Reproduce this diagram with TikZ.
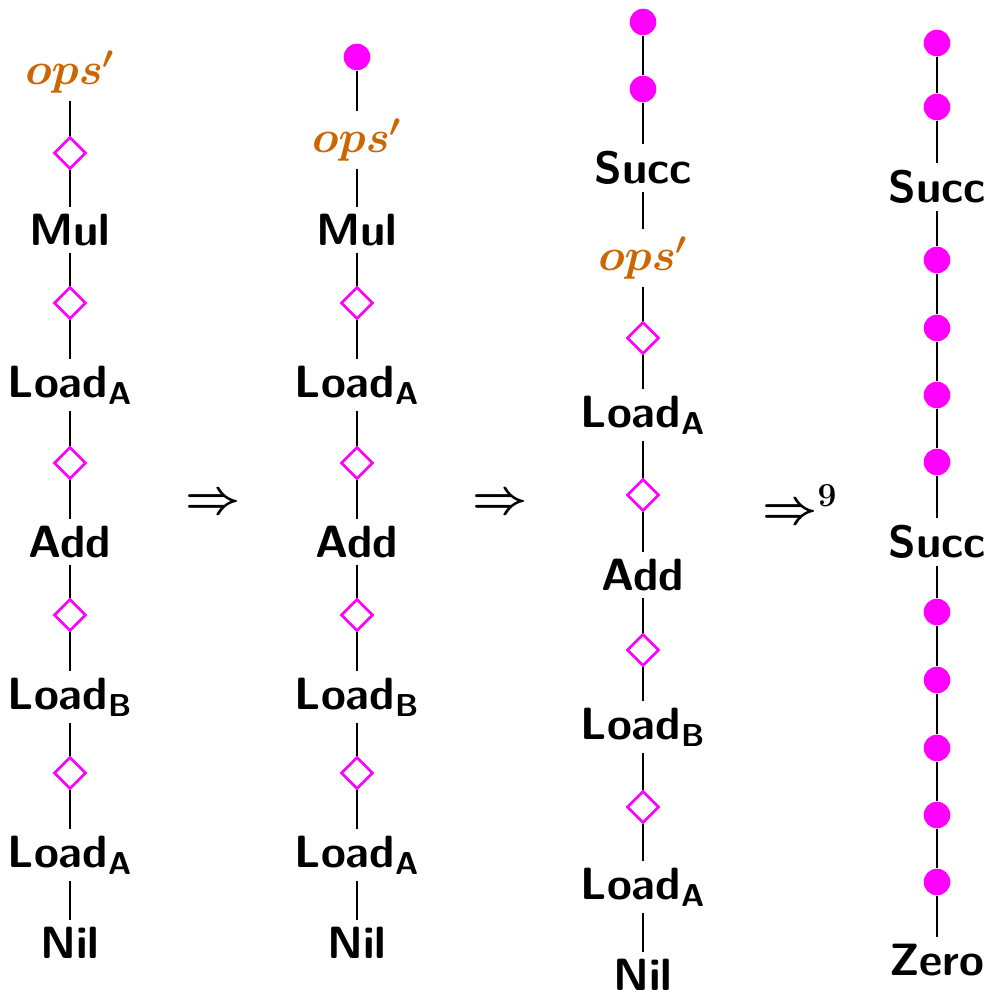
\RequirePackage{fix-cm}
\documentclass[tikz,border=0pt]{standalone}
\usepackage{amsmath}
\usepackage{fontspec}
\usetikzlibrary{shapes.geometric}

\definecolor{opsorange}{RGB}{204,102,0}
\definecolor{holemag}{RGB}{255,0,255}
\newcommand\lblfont{\sffamily\bfseries\fontsize{22.6}{26}\selectfont}
\newcommand\opsfont{\fontsize{22.6}{26}\selectfont}
\newcommand\arrfont{\fontsize{24}{28}\selectfont\boldmath}
\newcommand\opsname{$\boldsymbol{ops'}$}

\tikzset{
  lbl/.style={font=\lblfont, inner sep=3.5pt},
  opsl/.style={text=opsorange, font=\opsfont, inner sep=3.5pt},
  hole/.style={diamond, draw=holemag, line width=1.3pt, minimum size=16pt, inner sep=0pt},
  dotn/.style={circle, fill=holemag, minimum size=13.3pt, inner sep=0pt},
  link/.style={line width=0.65pt},
  step arrow/.style={font=\arrfont, inner sep=0pt},
}

\begin{document}
\begin{tikzpicture}[x=0.5pt, y=-0.5pt]
\useasboundingbox (0,0) rectangle (990,998);

% first term
\node[opsl] (a1)  at (70,72)  {\opsname};
\node[hole] (a2)  at (70,153) {};
\node[lbl]  (a3)  at (70,230) {Mul};
\node[hole] (a4)  at (70,303) {};
\node[lbl]  (a5)  at (70,385) {Load$_{\text{A}}$};
\node[hole] (a6)  at (70,463) {};
\node[lbl]  (a7)  at (70,542) {Add};
\node[hole] (a8)  at (70,615) {};
\node[lbl]  (a9)  at (70,697) {Load$_{\text{B}}$};
\node[hole] (a10) at (70,773) {};
\node[lbl]  (a11) at (70,855) {Load$_{\text{A}}$};
\node[lbl]  (a12) at (70,943) {Nil};
\foreach \i [evaluate=\i as \j using int(\i+1)] in {1,...,11}
  \draw[link] (a\i) -- (a\j);

% second term
\node[dotn] (b1)  at (357,57)  {};
\node[opsl] (b2)  at (357,140) {\opsname};
\node[lbl]  (b3)  at (357,230) {Mul};
\node[hole] (b4)  at (357,303) {};
\node[lbl]  (b5)  at (357,385) {Load$_{\text{A}}$};
\node[hole] (b6)  at (357,463) {};
\node[lbl]  (b7)  at (357,542) {Add};
\node[hole] (b8)  at (357,615) {};
\node[lbl]  (b9)  at (357,697) {Load$_{\text{B}}$};
\node[hole] (b10) at (357,773) {};
\node[lbl]  (b11) at (357,855) {Load$_{\text{A}}$};
\node[lbl]  (b12) at (357,943) {Nil};
\foreach \i [evaluate=\i as \j using int(\i+1)] in {1,...,11}
  \draw[link] (b\i) -- (b\j);

% third term
\node[dotn] (c1)  at (643,22)  {};
\node[dotn] (c2)  at (643,89)  {};
\node[lbl]  (c3)  at (643,168) {Succ};
\node[opsl] (c4)  at (643,258) {\opsname};
\node[hole] (c5)  at (643,338) {};
\node[lbl]  (c6)  at (643,415) {Load$_{\text{A}}$};
\node[hole] (c7)  at (643,495) {};
\node[lbl]  (c8)  at (643,575) {Add};
\node[hole] (c9)  at (643,650) {};
\node[lbl]  (c10) at (643,727) {Load$_{\text{B}}$};
\node[hole] (c11) at (643,807) {};
\node[lbl]  (c12) at (643,887) {Load$_{\text{A}}$};
\node[lbl]  (c13) at (643,975) {Nil};
\foreach \i [evaluate=\i as \j using int(\i+1)] in {1,...,12}
  \draw[link] (c\i) -- (c\j);

% final term
\node[dotn] (d1)  at (937,43)  {};
\node[dotn] (d2)  at (937,107) {};
\node[lbl]  (d3)  at (937,187) {Succ};
\node[dotn] (d4)  at (937,260) {};
\node[dotn] (d5)  at (937,328) {};
\node[dotn] (d6)  at (937,395) {};
\node[dotn] (d7)  at (937,462) {};
\node[lbl]  (d8)  at (937,542) {Succ};
\node[dotn] (d9)  at (937,612) {};
\node[dotn] (d10) at (937,680) {};
\node[dotn] (d11) at (937,748) {};
\node[dotn] (d12) at (937,815) {};
\node[dotn] (d13) at (937,882) {};
\node[lbl]  (d14) at (937,960) {Zero};
\foreach \i [evaluate=\i as \j using int(\i+1)] in {1,...,13}
  \draw[link] (d\i) -- (d\j);

% rewrite steps
\node[step arrow] (s1) at (213,504) {$\Rightarrow$};
\node[step arrow] (s2) at (500,504) {$\Rightarrow$};
\node[step arrow, anchor=west] (s3) at (762,504) {$\Rightarrow^{\text{\rmfamily\bfseries 9}}$};
\end{tikzpicture}
\end{document}
